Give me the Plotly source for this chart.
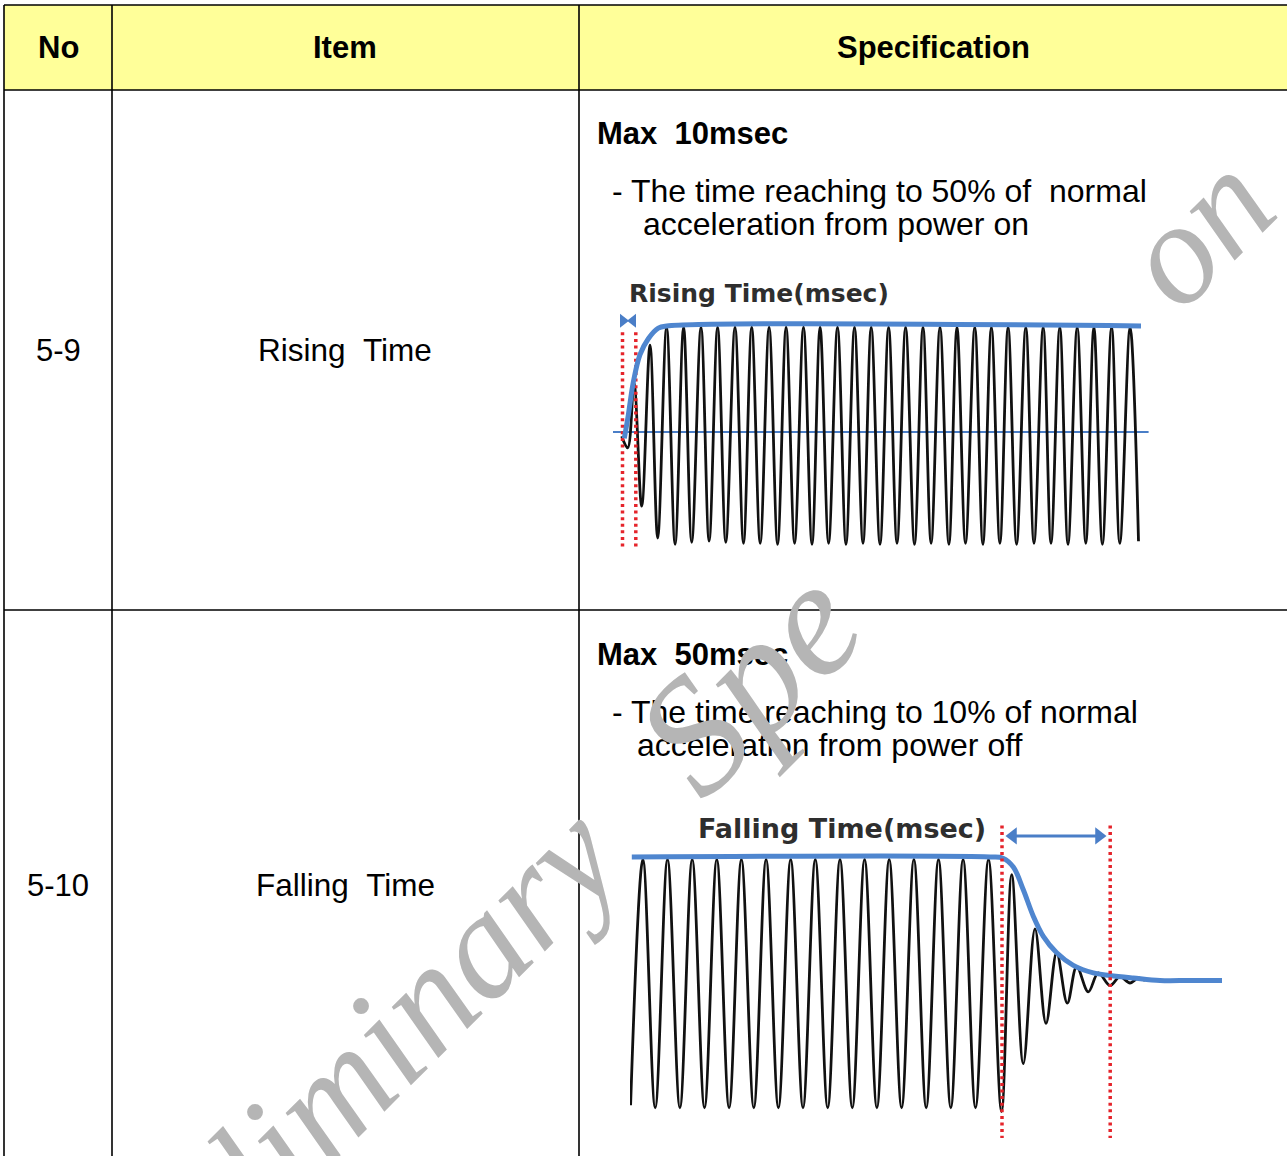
import plotly.graph_objects as go

W, H = 1287, 1156

# ---------------- data ----------------
# Table
header_labels = ["No", "Item", "Specification"]
row_numbers = ["5-9", "5-10"]
row_items = ["Rising\u00a0\u00a0Time", "Falling\u00a0\u00a0Time"]
spec_titles = ["Max\u00a0\u00a010msec", "Max\u00a0\u00a050msec"]
spec_line1 = ["- The time reaching to 50% of\u00a0\u00a0normal",
              "- The time reaching to 10% of normal"]
spec_line2 = ["acceleration from power on", "acceleration from power off"]
chart_titles = ["Rising Time(msec)", "Falling Time(msec)"]
watermark_parts = ["Preliminary", "Spe", "on"]

# Rising waveform: extrema of the black trace (time units, normalised acceleration)
rise_x = [8.7, 14.7, 21.0, 28.7, 37.0, 44.7,
          53.6, 62.1, 70.6, 78.7, 88.0, 96.1, 104.6, 112.8, 122.0, 130.5,
          138.7, 147.2, 156.1, 164.6, 173.1, 181.6, 190.5, 199.0, 207.1, 215.6,
          224.5, 233.0, 241.5, 250.0, 258.2, 267.0, 275.6, 284.0, 292.6, 301.5,
          310.0, 318.1, 327.0, 335.9, 344.0, 352.5, 361.8, 369.9, 378.4, 386.9,
          395.1, 403.6, 412.8, 421.0, 430.2, 438.0, 446.8, 455.0, 464.2, 472.8,
          480.9, 489.4, 498.6, 506.8, 517.1, 525.5]
rise_y = [-0.04, -0.15, 0.46, -0.70, 0.82, -1.00,
          0.99, -1.06, 0.99, -1.04, 0.99, -1.03, 0.99, -1.04, 0.99, -1.05,
          0.99, -1.05, 0.99, -1.06, 0.99, -1.05, 0.99, -1.06, 0.99, -1.05,
          0.99, -1.06, 0.99, -1.05, 0.99, -1.06, 0.99, -1.05, 0.99, -1.06,
          0.99, -1.05, 0.99, -1.06, 0.99, -1.05, 0.99, -1.06, 0.99, -1.05,
          0.99, -1.06, 0.99, -1.05, 0.99, -1.05, 0.99, -1.06, 0.99, -1.05,
          0.99, -1.06, 0.99, -1.05, 0.99, -1.03]
rise_env_x = [11.3, 15.3, 20.3, 27.0, 35.3, 45.3, 53.7, 528.0]
rise_env_y = [-0.06, 0.16, 0.47, 0.73, 0.88, 0.98, 1.0, 1.0]
rise_mid_x = [0.0, 535.6]
rise_mid_y = [0.0, 0.0]
rise_marks_x = [9.5, 22.8]
rise_marks_y = [0.94, -1.09]
rise_bow_x = [10.0, 20.0]
rise_bow_y = [1.05, 1.05]

# Falling waveform
fall_x = [0.6, 12.9, 25.2, 37.5, 49.9, 62.2, 74.5, 86.8, 99.1, 111.4, 123.8,
          136.1, 148.4, 160.7, 173.0, 185.3, 197.7, 210.0, 222.3, 234.6, 246.9,
          259.2, 271.6, 283.9, 296.2, 308.5, 320.8, 333.1, 345.5, 358.5,
          371.5, 381.7, 393.3, 405.0, 416.0, 426.7, 437.3, 446.7, 458.3, 468.3,
          480.0, 490.0, 500.0, 508.3, 515.0]
fall_y = [-0.97, 0.98, -0.99, 0.98, -0.99, 0.98, -0.99, 0.98, -0.99, 0.98, -0.99,
          0.98, -0.99, 0.98, -0.99, 0.98, -0.99, 0.98, -0.99, 0.98, -0.99,
          0.98, -0.99, 0.98, -0.99, 0.98, -0.99, 0.98, -0.99, 0.98,
          -1.02, 0.86, -0.64, 0.43, -0.32, 0.24, -0.16, 0.13, -0.07, 0.08,
          -0.02, 0.05, 0.0, 0.04, 0.02]
fall_env_x = [1.8, 360.0, 373.0, 383.3, 393.3, 403.3, 413.3, 426.7, 443.3, 463.3,
              480.0, 503.3, 530.0, 560.0, 592.0]
fall_env_y = [1.0, 1.0, 0.99, 0.92, 0.74, 0.53, 0.37, 0.24, 0.14, 0.08,
              0.06, 0.04, 0.02, 0.02, 0.02]
fall_marks_x = [372.0, 480.2]
fall_marks_y = [1.25, -1.23]
fall_arrow_x = [378.0, 474.0]
fall_arrow_y = [1.167, 1.167]

# ---------------- styles ----------------
BLACK = "#111111"
BLUE_THICK = "#4F86CF"
BLUE_THIN = "#4A7EC7"
RED = "#E5242B"
SANS = "Liberation Sans, Arial, sans-serif"
WM_COLOR = "#B5B5B5"


def PX(x):
    return x / W


def PY(y):
    return 1 - y / H


fig = go.Figure()

# ---- Rising chart (x / y) ----
fig.add_trace(go.Scatter(x=rise_mid_x, y=rise_mid_y, mode="lines",
                         line=dict(color=BLUE_THIN, width=2), xaxis="x", yaxis="y",
                         hoverinfo="skip"))
fig.add_trace(go.Scatter(x=rise_x, y=rise_y, mode="lines",
                         line=dict(color=BLACK, width=2.8, shape="spline", smoothing=1),
                         xaxis="x", yaxis="y", hoverinfo="skip"))
for mx in rise_marks_x:
    fig.add_trace(go.Scatter(x=[mx, mx], y=rise_marks_y, mode="lines",
                             line=dict(color=RED, width=3.5, dash="3px,3.6px"),
                             xaxis="x", yaxis="y", hoverinfo="skip"))
fig.add_trace(go.Scatter(x=rise_env_x, y=rise_env_y, mode="lines",
                         line=dict(color=BLUE_THICK, width=5, shape="spline", smoothing=1),
                         xaxis="x", yaxis="y", hoverinfo="skip"))
fig.add_trace(go.Scatter(x=rise_bow_x, y=rise_bow_y, mode="markers",
                         marker=dict(symbol=["triangle-right", "triangle-left"], size=12,
                                     color=BLUE_THIN),
                         xaxis="x", yaxis="y", hoverinfo="skip"))

# ---- Falling chart (x2 / y2) ----
fig.add_trace(go.Scatter(x=fall_x, y=fall_y, mode="lines",
                         line=dict(color=BLACK, width=2.8, shape="spline", smoothing=1),
                         xaxis="x2", yaxis="y2", hoverinfo="skip"))
fig.add_trace(go.Scatter(x=fall_env_x, y=fall_env_y, mode="lines",
                         line=dict(color=BLUE_THICK, width=5, shape="spline", smoothing=1),
                         xaxis="x2", yaxis="y2", hoverinfo="skip"))
for mx in fall_marks_x:
    fig.add_trace(go.Scatter(x=[mx, mx], y=fall_marks_y, mode="lines",
                             line=dict(color=RED, width=3.5, dash="3px,3.6px"),
                             xaxis="x2", yaxis="y2", hoverinfo="skip"))
fig.add_trace(go.Scatter(x=fall_arrow_x, y=fall_arrow_y, mode="lines",
                         line=dict(color=BLUE_THIN, width=3),
                         xaxis="x2", yaxis="y2", hoverinfo="skip"))
fig.add_trace(go.Scatter(x=[fall_arrow_x[0] + 5, fall_arrow_x[1] - 5], y=fall_arrow_y,
                         mode="markers",
                         marker=dict(symbol=["triangle-left", "triangle-right"], size=15,
                                     color=BLUE_THIN),
                         xaxis="x2", yaxis="y2", hoverinfo="skip"))

hidden = dict(visible=False, showgrid=False, zeroline=False, fixedrange=True)

# ---------------- table shapes ----------------
shapes = []
shapes.append(dict(type="rect", xref="paper", yref="paper",
                   x0=PX(4), x1=PX(1290), y0=PY(90), y1=PY(5),
                   fillcolor="#FFFF99", line=dict(width=0), layer="below"))
line_style = dict(color="black", width=1.6)
for yy in [5, 90, 610]:
    shapes.append(dict(type="line", xref="paper", yref="paper",
                       x0=PX(4), x1=PX(1290), y0=PY(yy), y1=PY(yy), line=line_style))
for xx in [4, 112, 579]:
    shapes.append(dict(type="line", xref="paper", yref="paper",
                       x0=PX(xx), x1=PX(xx), y0=PY(5), y1=PY(1160), line=line_style))

# ---------------- annotations ----------------
ann = []


def text(t, x, y, size=31, bold=False, anchor="center", color="black", family=SANS):
    ann.append(dict(text=t, x=PX(x), y=PY(y), xref="paper", yref="paper",
                    xanchor=anchor, yanchor="middle", showarrow=False,
                    font=dict(family=family, size=size, color=color,
                              weight="bold" if bold else "normal")))


for lab, cx in zip(header_labels, [58, 345, 933]):
    text(lab, cx, 47, bold=True)
for num, item, cy in zip(row_numbers, row_items, [350, 885]):
    text(num, 58, cy)
    text(item, 345, cy, size=31.5)

text(spec_titles[0], 595, 133, bold=True, anchor="left")
text(spec_line1[0], 610, 191, size=32, anchor="left")
text(spec_line2[0], 641, 224, size=32, anchor="left")
text(spec_titles[1], 595, 654, bold=True, anchor="left")
text(spec_line1[1], 610, 712, size=32, anchor="left")
text(spec_line2[1], 635, 745, size=32, anchor="left")

text(chart_titles[0], 759, 293, size=25, bold=True, color="#2E2E2E",
     family="DejaVu Sans, Verdana, sans-serif")
text(chart_titles[1], 842, 828, size=27, bold=True, color="#2E2E2E",
     family="DejaVu Sans, Verdana, sans-serif")

# watermark (only the parts that are not covered by the diagrams)
wm_pos = [(338, 1086), (748, 680), (1196, 230)]
wm_size = [150, 165, 145]
for part, (cx, cy), sz in zip(watermark_parts, wm_pos, wm_size):
    ann.append(dict(text=part, x=PX(cx), y=PY(cy), xref="paper", yref="paper",
                    xanchor="center", yanchor="middle", showarrow=False,
                    textangle=-45,
                    font=dict(family="Liberation Serif, Times New Roman, serif",
                              size=sz, color=WM_COLOR, style="italic")))

fig.update_layout(
    width=W, height=H, autosize=False,
    margin=dict(l=0, r=0, t=0, b=0, pad=0),
    paper_bgcolor="white", plot_bgcolor="rgba(0,0,0,0)",
    showlegend=False,
    xaxis=dict(domain=[PX(613), PX(1150)], range=[0, 537], **hidden),
    yaxis=dict(domain=[PY(564.5), PY(299.5)], range=[-1.25, 1.25], **hidden),
    xaxis2=dict(domain=[PX(630), PX(1222)], range=[0, 592], anchor="y2", **hidden),
    yaxis2=dict(domain=[PY(1146.8), PY(819.2)], range=[-1.3, 1.3], anchor="x2", **hidden),
    shapes=shapes,
    annotations=ann,
)

fig.write_html("out.html", config={"displayModeBar": False},
               post_script="document.body.style.margin='0px';document.body.style.overflow='hidden';")
